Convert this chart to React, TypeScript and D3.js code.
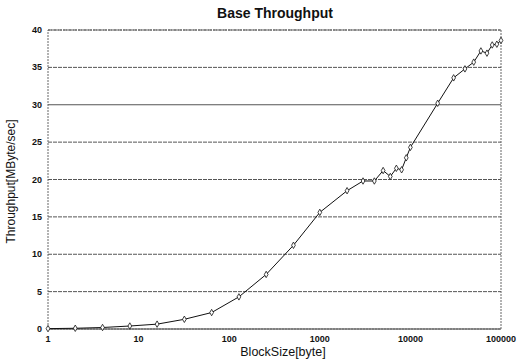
import * as d3 from 'd3';

const sizes = [1, 2, 4, 8, 16, 32, 64, 128, 256, 512, 1000, 2000, 3000, 4000, 5000, 6000, 7000, 8000, 9000, 10000,
    20000, 30000, 40000, 50000, 60000, 70000, 80000, 90000, 100000];
const throughput = [0.05, 0.1, 0.2, 0.4, 0.65, 1.3, 2.2, 4.3, 7.3, 11.2, 15.6, 18.5, 19.8, 19.8, 21.2, 20.4, 21.5, 21.3, 22.9, 24.3,
    30.2, 33.6, 34.8, 35.7, 37.2, 36.9, 38.0, 38.1, 38.6];
const xTicks = [1, 10, 100, 1000, 10000, 100000];
const yTicks = [0, 5, 10, 15, 20, 25, 30, 35, 40];

const width = 520;
const height = 359;
const margin = { top: 30, right: 19, bottom: 30, left: 48 };

const App = () => {
    const x = d3.scaleLog().domain([1, 100000]).range([margin.left, width - margin.right]);
    const y = d3.scaleLinear().domain([0, 40]).range([height - margin.bottom, margin.top]);

    const points = sizes.map((s, i) => ({ s, v: throughput[i] }));
    const line = d3.line<{ s: number; v: number }>()
        .x((d) => x(d.s))
        .y((d) => y(d.v));
    const diamond = d3.symbol().type(d3.symbolDiamond).size(12)();

    const font = '"Liberation Sans", Arial, sans-serif';

    return (
        <svg width={width} height={height} style={{ position: 'absolute', left: 0, top: 0, background: '#fff' }}>
            {/* grid */}
            {yTicks.map((t) => (
                <line key={t} x1={x(1)} x2={x(100000)} y1={y(t)} y2={y(t)}
                    stroke={t === 0 ? '#333' : '#555'} strokeWidth={1}
                    strokeDasharray={t === 0 || t === 30 ? undefined : '4,1'} />
            ))}
            {/* border */}
            <rect x={x(1)} y={y(40)} width={x(100000) - x(1)} height={y(0) - y(40)}
                fill="none" stroke="#666" strokeWidth={1} strokeDasharray="2,1" />

            {/* y ticks */}
            {yTicks.map((t) => (
                <text key={t} x={x(1) - 6} y={y(t) + 3} textAnchor="end" fontFamily={font}
                    fontWeight="bold" fontSize={9} fill="#111">{t}</text>
            ))}
            {/* x ticks */}
            {xTicks.map((t) => (
                <text key={t} x={x(t)} y={y(0) + 13} textAnchor="middle" fontFamily={font}
                    fontWeight="bold" fontSize={9} fill="#111">{t}</text>
            ))}

            {/* series */}
            <path d={line(points) || ''} fill="none" stroke="#111" strokeWidth={1} />
            {points.map((d) => (
                <path key={d.s} d={diamond || ''} transform={`translate(${x(d.s)},${y(d.v)})`}
                    fill="#fff" stroke="#111" strokeWidth={0.8} />
            ))}

            {/* titles */}
            <text x={275} y={18} textAnchor="middle" fontFamily={font} fontWeight="bold" fontSize={14} fill="#111">
                Base Throughput
            </text>
            <text x={283} y={356} textAnchor="middle" fontFamily={font} fontSize={12.5} fill="#111">
                BlockSize[byte]
            </text>
            <text transform={`translate(15,${(y(0) + y(40)) / 2 + 2}) rotate(-90)`} textAnchor="middle"
                fontFamily={font} fontSize={12} fill="#111">
                Throughput[MByte/sec]
            </text>
        </svg>
    );
};

export default App;
